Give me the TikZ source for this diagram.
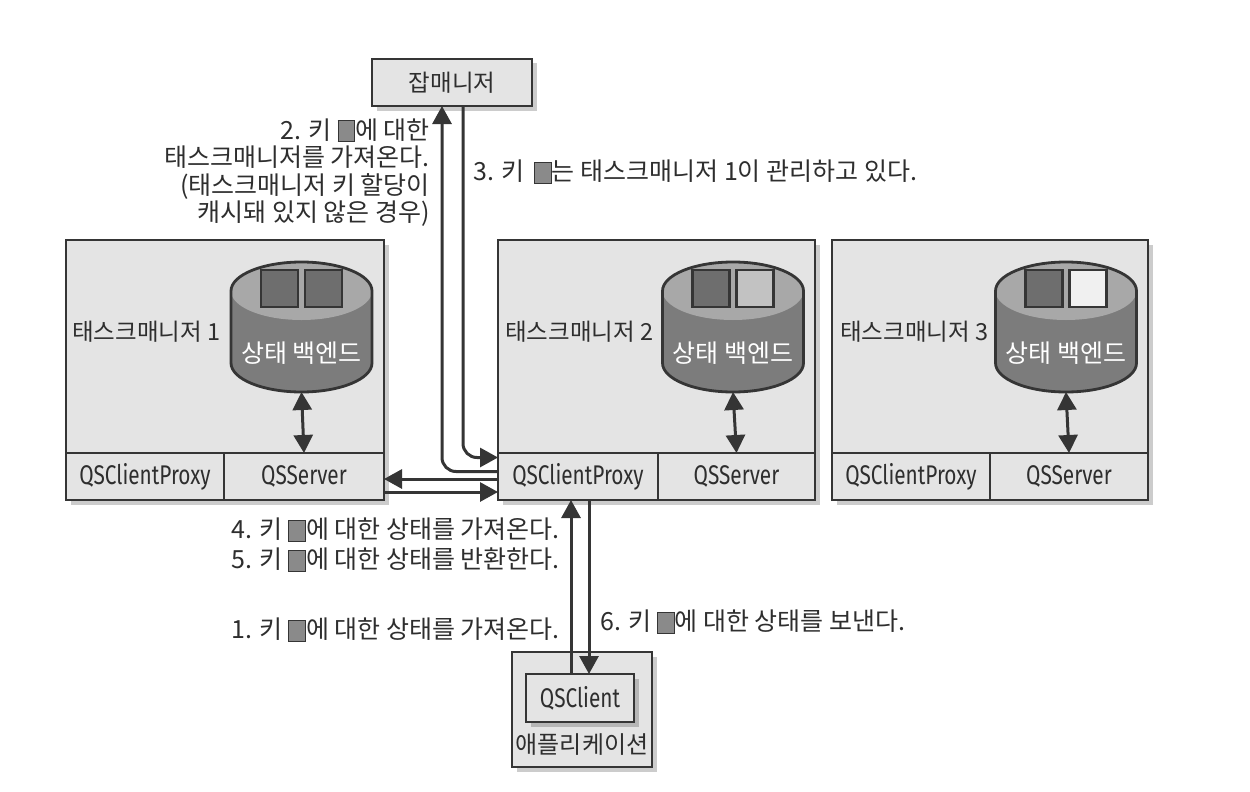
\documentclass[tikz,border=0pt]{standalone}
\usepackage{fontspec}
\usetikzlibrary{arrows.meta,shadows}
\newfontfamily\kr{Noto Sans CJK KR}
\newfontfamily\cond[FakeStretch=0.77]{Fira Sans}
\definecolor{boxfill}{HTML}{E4E4E4}
\definecolor{edge}{HTML}{353535}
\definecolor{cylside}{HTML}{7C7C7C}
\definecolor{cyltop}{HTML}{A8A8A8}
\definecolor{keydark}{HTML}{6E6E6E}
\definecolor{keymid}{HTML}{8A8A8A}
\definecolor{keylight}{HTML}{C2C2C2}
\definecolor{keywhite}{HTML}{F0F0F0}
\definecolor{txt}{HTML}{2E2E2E}
\newcommand\kbox{\raisebox{-2pt}{\setlength\fboxsep{0pt}\setlength\fboxrule{0.8pt}\fcolorbox{edge}{keymid}{\rule{0pt}{20pt}\rule{16pt}{0pt}}}}
\tikzset{
  box/.style={draw=edge, line width=2.6pt, fill=boxfill, inner sep=0pt, outer sep=0pt,
    drop shadow={shadow xshift=4.5pt, shadow yshift=-4.5pt, fill=black, opacity=0.2}},
  cellbox/.style={draw=edge, line width=2.3pt, fill=boxfill, inner sep=0pt, outer sep=0pt,
    font=\cond\fontsize{27}{30}\selectfont, text=txt},
  arr/.style={draw=edge, line width=3pt, -{Triangle[length=18pt,width=19pt]}},
  darr/.style={draw=edge, line width=3pt, {Triangle[length=18pt,width=19pt]}-{Triangle[length=18pt,width=19pt]}},
  note/.style={text=txt, font=\kr\fontsize{25}{27.5}\selectfont, inner sep=0pt},
  tmlbl/.style={text=txt, font=\kr\fontsize{23.5}{26}\selectfont, inner sep=0pt},
  sq/.style={draw=edge, line width=2.5pt, minimum size=37pt, inner sep=0pt},
  cyltext/.style={text=white, font=\kr\fontsize{25}{28}\selectfont, inner sep=0pt},
}
\newcommand\drawcyl[4]{%
  \fill[cylside] (#1-70.5,291) rectangle (#1+70.5,363);
  \fill[cylside] (#1,363) ellipse[x radius=70.5, y radius=29];
  \fill[cyltop] (#1,291) ellipse[x radius=70.5, y radius=29];
  \draw[edge, line width=2.8pt] (#1-70.5,291) -- (#1-70.5,363)
     arc[start angle=180, end angle=0, x radius=70.5, y radius=29] -- (#1+70.5,291)
     arc[start angle=0, end angle=-180, x radius=70.5, y radius=29] -- cycle;
  \node[inner sep=0pt, outer sep=0pt, minimum width=141pt, minimum height=130pt] (#2) at (#1,327) {};
  \node[sq, fill=#3] at (#1-22,288.5) {};
  \node[sq, fill=#4] at (#1+22,288.5) {};
  \node[cyltext] at (#1,353) {상태 백엔드};
}
\begin{document}
\begin{tikzpicture}[x=1pt, y=-1pt]
\useasboundingbox[fill=white] (0,0) rectangle (1250,792);

% job manager
\node[box, anchor=north west, minimum width=160pt, minimum height=47pt] (jm) at (372,59) {};
\node[tmlbl] at (jm.center) {잡매니저};

% task manager 1
\node[box, anchor=north west, minimum width=318pt, minimum height=260pt] (tm1) at (66,240) {};
\node[cellbox, anchor=north west, minimum width=158pt, minimum height=47pt] (p1) at (66,453) {QSClientProxy};
\node[cellbox, anchor=north west, minimum width=160pt, minimum height=47pt] (s1) at (224,453) {QSServer};
\node[tmlbl, anchor=west] (l1) at (72,332) {태스크매니저 1};
\drawcyl{301.5}{c1}{keydark}{keydark}
\draw[darr] (c1.south) -- (s1.north);

% task manager 2
\node[box, anchor=north west, minimum width=317pt, minimum height=260pt] (tm2) at (498,240) {};
\node[cellbox, anchor=north west, minimum width=160pt, minimum height=47pt] (p2) at (498,453) {QSClientProxy};
\node[cellbox, anchor=north west, minimum width=157pt, minimum height=47pt] (s2) at (658,453) {QSServer};
\node[tmlbl, anchor=west] (l2) at (505,332) {태스크매니저 2};
\drawcyl{733}{c2}{keydark}{keylight}
\draw[darr] (c2.south) -- (s2.north);

% task manager 3
\node[box, anchor=north west, minimum width=316pt, minimum height=260pt] (tm3) at (832,240) {};
\node[cellbox, anchor=north west, minimum width=158pt, minimum height=47pt] (p3) at (832,453) {QSClientProxy};
\node[cellbox, anchor=north west, minimum width=158pt, minimum height=47pt] (s3) at (990,453) {QSServer};
\node[tmlbl, anchor=west] (l3) at (840,332) {태스크매니저 3};
\drawcyl{1066}{c3}{keydark}{keywhite}
\draw[darr] (c3.south) -- (s3.north);

% application
\node[box, anchor=north west, minimum width=140pt, minimum height=115pt] (app) at (512,652) {};
\node[box, anchor=north west, minimum width=108pt, minimum height=48pt,
      font=\cond\fontsize{27}{30}\selectfont, text=txt] (qc) at (526,674) {QSClient};
\node[tmlbl, font=\kr\fontsize{24}{26}\selectfont] (al) at (582,745) {애플리케이션};

% connectors
\draw[arr, rounded corners=14pt] ([yshift=5pt]p2.west) -| ([xshift=-10pt]jm.south);
\draw[arr, rounded corners=14pt] ([xshift=11pt]jm.south) |- ([yshift=19pt]p2.west);
\draw[arr] ([yshift=-2.5pt]p2.west) -- ([yshift=-2.5pt]s1.east);
\draw[arr] ([yshift=-15.5pt]s1.east) -- ([yshift=-15.5pt]p2.west);
\draw[arr] ([xshift=-9pt]qc.north) -- ([xshift=-9pt]qc.north |- p2.south);
\draw[arr] ([xshift=9pt]qc.north |- p2.south) -- ([xshift=9pt]qc.north);

% notes
\node[note, anchor=east, align=right] (n2) at (430,172.5)
  {2. 키 {\kbox}에 대한\\태스크매니저를 가져온다.\\(태스크매니저 키 할당이\\캐시돼 있지 않은 경우)};
\node[note, anchor=west] (n3) at (473,172) {3. 키 \,{\kbox}는 태스크매니저 1이 관리하고 있다.};
\node[note, anchor=east] (n4) at (560,530) {4. 키 {\kbox}에 대한 상태를 가져온다.};
\node[note, anchor=east] (n5) at (560,560) {5. 키 {\kbox}에 대한 상태를 반환한다.};
\node[note, anchor=east] (n1) at (560,630) {1. 키 {\kbox}에 대한 상태를 가져온다.};
\node[note, anchor=west] (n6) at (600,622) {6. 키 {\kbox}에 대한 상태를 보낸다.};
\end{tikzpicture}
\end{document}
